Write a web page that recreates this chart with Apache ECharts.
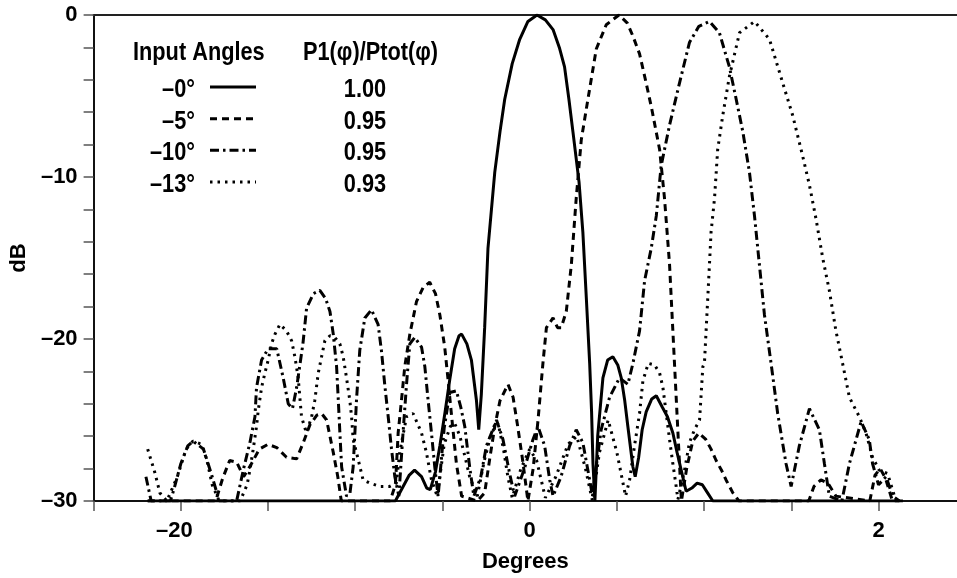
<!DOCTYPE html>
<html>
<head>
<meta charset="utf-8">
<script src="https://cdn.jsdelivr.net/npm/echarts@6/dist/echarts.min.js"></script>
<style>
  html, body { margin: 0; padding: 0; background: #fff; }
  #main { width: 957px; height: 578px; }
</style>
</head>
<body>
<div id="main"></div>
<script>
// beam patterns, [degrees, dB]
var deg0 = [[-2.19,-30],[-0.77,-30],[-0.73,-29.2],[-0.69,-28.4],[-0.66,-28.1],[-0.62,-28.5],[-0.59,-29.2],[-0.57,-29.3],[-0.54,-28.2],[-0.515,-26.6],[-0.485,-24.5],[-0.458,-22.5],[-0.43,-20.6],[-0.405,-19.8],[-0.39,-19.7],[-0.36,-20.3],[-0.334,-21.3],[-0.305,-23.8],[-0.292,-25.6],[-0.277,-23.4],[-0.258,-19.3],[-0.239,-14.4],[-0.2,-9.7],[-0.17,-7.2],[-0.143,-5.2],[-0.1,-3],[-0.057,-1.5],[-0.01,-0.4],[0.042,0],[0.09,-0.3],[0.134,-0.9],[0.17,-2],[0.2,-3.2],[0.225,-5.2],[0.248,-7.2],[0.283,-10.3],[0.305,-13.4],[0.325,-17.5],[0.344,-21.5],[0.355,-24.5],[0.363,-27.7],[0.374,-30],[0.39,-26],[0.42,-22.4],[0.447,-21.3],[0.477,-21.1],[0.505,-21.6],[0.525,-22.4],[0.545,-23.8],[0.563,-25.4],[0.592,-27.9],[0.605,-28.5],[0.625,-27.3],[0.645,-25.6],[0.668,-24.5],[0.7,-23.7],[0.726,-23.5],[0.76,-24.2],[0.79,-24.8],[0.821,-25.8],[0.845,-27],[0.869,-28.1],[0.897,-29.4],[0.93,-29.2],[0.96,-28.9],[0.99,-29],[1.02,-29.5],[1.05,-30],[2.14,-30]];

var deg5 = [[-2.19,-30],[-1.8,-30],[-1.76,-28.6],[-1.72,-27.5],[-1.68,-27.6],[-1.64,-28.5],[-1.6,-27.8],[-1.55,-26.8],[-1.5,-26.5],[-1.45,-26.7],[-1.394,-27.3],[-1.336,-27.4],[-1.298,-26.4],[-1.26,-25.3],[-1.22,-24.7],[-1.193,-24.6],[-1.164,-25],[-1.126,-27],[-1.1,-28.5],[-1.08,-30],[-0.8,-30],[-0.77,-29],[-0.764,-27.9],[-0.754,-25.8],[-0.735,-23.8],[-0.716,-21.7],[-0.687,-19.7],[-0.649,-17.7],[-0.61,-16.8],[-0.573,-16.5],[-0.54,-17.2],[-0.515,-18.5],[-0.487,-20.5],[-0.468,-22.5],[-0.449,-24.6],[-0.42,-27.7],[-0.39,-29.7],[-0.3,-30],[-0.258,-29.5],[-0.229,-27.4],[-0.2,-25.4],[-0.17,-23.8],[-0.124,-22.8],[-0.095,-23.6],[-0.07,-25.3],[-0.04,-27.5],[-0.01,-30],[0.02,-28],[0.048,-25],[0.076,-21.5],[0.096,-19.3],[0.134,-18.7],[0.16,-19.3],[0.181,-19.3],[0.21,-18.3],[0.239,-15.4],[0.267,-11.3],[0.296,-7.7],[0.334,-5.2],[0.382,-2.1],[0.439,-0.6],[0.512,0],[0.56,-0.5],[0.592,-1.3],[0.63,-2.4],[0.668,-4.2],[0.7,-5.8],[0.745,-8.3],[0.773,-11.3],[0.802,-15.4],[0.821,-19.5],[0.84,-23.6],[0.859,-27.7],[0.87,-30],[0.9,-28],[0.935,-26.3],[0.97,-25.8],[1.01,-26.2],[1.04,-26.8],[1.069,-27.5],[1.1,-28.1],[1.126,-28.7],[1.165,-29.5],[1.2,-30],[1.6,-30],[1.63,-29.1],[1.67,-28.7],[1.71,-28.9],[1.756,-29.7],[1.95,-30],[1.98,-28.4],[2.01,-28],[2.04,-28.6],[2.08,-30],[2.12,-30]];

var deg10 = [[-2.2,-28.5],[-2.17,-30],[-2.06,-30],[-2.04,-29.3],[-2,-27.7],[-1.96,-26.6],[-1.93,-26.3],[-1.87,-26.8],[-1.82,-28.5],[-1.78,-30],[-1.68,-30],[-1.64,-28],[-1.604,-26.4],[-1.575,-24.8],[-1.566,-23],[-1.537,-21.3],[-1.499,-20.6],[-1.45,-20.6],[-1.413,-22.4],[-1.384,-24],[-1.36,-24.3],[-1.336,-23],[-1.3,-20.3],[-1.279,-18.1],[-1.24,-17.2],[-1.203,-17],[-1.17,-17.5],[-1.145,-18.3],[-1.126,-19.7],[-1.107,-21.7],[-1.097,-23.8],[-1.088,-25.8],[-1.078,-27.9],[-1.05,-29.7],[-1.03,-29.5],[-1.012,-27.9],[-1.002,-25.8],[-0.993,-23.8],[-0.974,-20.7],[-0.945,-18.7],[-0.907,-18.2],[-0.869,-19.1],[-0.85,-20.7],[-0.831,-22.8],[-0.811,-24.8],[-0.792,-26.8],[-0.773,-28.5],[-0.75,-29.7],[-0.726,-25.8],[-0.706,-22.8],[-0.687,-20.3],[-0.659,-19.9],[-0.62,-20.5],[-0.601,-21.7],[-0.582,-23.8],[-0.563,-25.8],[-0.544,-27.9],[-0.525,-29.7],[-0.49,-25.5],[-0.458,-23.3],[-0.42,-23.2],[-0.395,-24.2],[-0.372,-25.4],[-0.344,-27.9],[-0.32,-29.7],[-0.28,-28.5],[-0.248,-26.6],[-0.19,-25],[-0.153,-26.2],[-0.115,-28.3],[-0.086,-29.7],[-0.03,-28],[0.019,-26.2],[0.048,-25.4],[0.086,-26.6],[0.115,-28.7],[0.134,-29.7],[0.18,-28.5],[0.229,-26.6],[0.267,-25.6],[0.305,-26.4],[0.344,-28.7],[0.36,-29.7],[0.38,-28],[0.41,-25.6],[0.458,-23.6],[0.515,-22.4],[0.563,-22.8],[0.592,-21.5],[0.63,-19.5],[0.659,-16.4],[0.697,-14.4],[0.726,-12.4],[0.754,-9.3],[0.802,-6.8],[0.859,-4.2],[0.916,-1.7],[0.97,-0.7],[1.031,-0.4],[1.088,-1.1],[1.145,-3.2],[1.184,-5.2],[1.222,-7.2],[1.26,-9.7],[1.289,-12.4],[1.317,-15.4],[1.346,-18.5],[1.384,-21.5],[1.422,-24.6],[1.47,-27.7],[1.499,-29.1],[1.546,-26.6],[1.604,-24.3],[1.661,-25.6],[1.69,-27.7],[1.718,-29.7],[1.79,-30],[1.833,-27.7],[1.9,-25.1],[1.947,-26.2],[1.966,-27.7],[2,-29],[2.043,-28.5],[2.081,-29.7],[2.12,-30]];

var deg13 = [[-2.19,-26.8],[-2.15,-28.2],[-2.12,-29.5],[-2.08,-30],[-2.02,-28.5],[-1.97,-26.8],[-1.93,-26.3],[-1.88,-26.5],[-1.85,-27.5],[-1.82,-29],[-1.78,-30],[-1.66,-30],[-1.62,-29],[-1.604,-28.1],[-1.585,-26.8],[-1.566,-25.4],[-1.556,-24.4],[-1.537,-23],[-1.518,-22.1],[-1.499,-21.3],[-1.48,-20.3],[-1.46,-19.7],[-1.432,-19.1],[-1.394,-19.5],[-1.365,-20.1],[-1.346,-21.1],[-1.327,-22.4],[-1.308,-24.8],[-1.28,-25.8],[-1.25,-24.8],[-1.232,-23.8],[-1.212,-22.1],[-1.193,-21.1],[-1.174,-20.1],[-1.145,-19.8],[-1.117,-19.9],[-1.088,-20.3],[-1.069,-21.1],[-1.05,-22.4],[-1.031,-23.8],[-1.021,-24.8],[-1.012,-26.2],[-0.993,-27],[-0.955,-28.7],[-0.916,-28.9],[-0.859,-29.1],[-0.802,-29.1],[-0.764,-28.9],[-0.745,-27],[-0.706,-24.8],[-0.668,-24.6],[-0.62,-25.8],[-0.592,-27],[-0.563,-28.7],[-0.53,-29.7],[-0.49,-26.5],[-0.455,-25.4],[-0.43,-25.2],[-0.4,-26],[-0.37,-27.3],[-0.344,-28.5],[-0.3,-29.7],[-0.26,-27.5],[-0.22,-25.8],[-0.181,-25.2],[-0.15,-26.8],[-0.125,-28.5],[-0.1,-29.8],[-0.05,-28],[0,-26.8],[0.04,-27.5],[0.09,-29.8],[0.15,-28.5],[0.22,-26.5],[0.27,-26],[0.32,-28],[0.36,-30],[0.4,-27],[0.45,-25],[0.5,-27],[0.55,-29.7],[0.573,-28.7],[0.601,-26.6],[0.63,-24.6],[0.649,-22.6],[0.68,-21.5],[0.716,-21.6],[0.745,-22.1],[0.764,-23],[0.783,-24.6],[0.802,-26.2],[0.821,-27.7],[0.84,-29.1],[0.85,-29.9],[0.888,-28.1],[0.916,-26.4],[0.945,-25.6],[0.974,-25],[0.993,-21.7],[1.002,-21.5],[1.021,-17.5],[1.04,-13.4],[1.06,-11.3],[1.078,-8.3],[1.107,-6.2],[1.145,-3.8],[1.203,-1.1],[1.289,-0.4],[1.375,-1.5],[1.451,-4.2],[1.508,-6.2],[1.565,-8.7],[1.604,-10.5],[1.642,-12.6],[1.68,-15],[1.718,-17],[1.756,-19.5],[1.794,-21.5],[1.833,-23.6],[1.89,-24.8],[1.928,-25.8],[1.966,-27.3],[2.004,-28.1],[2.052,-28.3],[2.08,-29.3],[2.1,-30]];

var angleLabels = ['–0°', '–5°', '–10°', '–13°'];
var powerRatios = ['1.00', '0.95', '0.95', '0.93'];
var xTickLabels = { '-2': '{l|–20}', '0': '0', '2': '2' };

var FONT = '"Liberation Sans", Arial, sans-serif';
var FS = 22;
var dashStyles = ['solid', [7, 5], [9, 4, 2.5, 4], [2.5, 5]];

var chartDom = document.getElementById('main');
var myChart = echarts.init(chartDom);

// legend drawn by hand: header + 4 rows (narrowed a bit like the original typeface)
var legendItems = [];
var rowY = [90, 121.7, 153.3, 185];
var legendFont = 'bold 25px ' + FONT;
legendItems.push({
    type: 'text', x: 133, y: 53, scaleX: 0.87,
    style: { text: 'Input Angles', font: legendFont, fill: '#000', verticalAlign: 'middle' }
});
legendItems.push({
    type: 'text', x: 303, y: 53, scaleX: 0.87,
    style: { text: 'P1(φ)/Ptot(φ)', font: legendFont, fill: '#000', verticalAlign: 'middle' }
});
angleLabels.forEach(function (lab, i) {
    legendItems.push({
        type: 'text', x: 195, y: rowY[i], scaleX: 0.87,
        style: { text: lab, font: legendFont, fill: '#000', align: 'right', verticalAlign: 'middle' }
    });
    legendItems.push({
        type: 'line',
        shape: { x1: 210, y1: rowY[i] - 3, x2: 256, y2: rowY[i] - 3 },
        style: { stroke: '#000', lineWidth: 3, lineDash: dashStyles[i] === 'solid' ? null : dashStyles[i] }
    });
    legendItems.push({
        type: 'text', x: 365, y: rowY[i], scaleX: 0.87,
        style: { text: powerRatios[i], font: legendFont, fill: '#000', align: 'center', verticalAlign: 'middle' }
    });
});

var series_list = [deg0, deg5, deg10, deg13].map(function (d, i) {
    return {
        type: 'line',
        data: d,
        showSymbol: false,
        clip: true,
        lineStyle: { color: '#000', width: 3, type: dashStyles[i] },
        z: 3
    };
});

var option = {
    animation: false,
    backgroundColor: '#fff',
    grid: { left: 93, right: 0, top: 15, bottom: 73 },
    xAxis: [{
        type: 'value',
        min: -2.5, max: 2.45, interval: 0.5,
        name: 'Degrees', nameLocation: 'middle', nameGap: 50,
        nameTextStyle: { fontFamily: FONT, fontWeight: 'bold', fontSize: FS, color: '#000' },
        axisLine: { show: true, onZero: false, lineStyle: { color: '#111', width: 2 } },
        axisTick: { show: true, length: 10, lineStyle: { color: '#555', width: 1.5 } },
        axisLabel: {
            margin: 19, fontFamily: FONT, fontWeight: 'bold', fontSize: FS, color: '#000',
            showMaxLabel: false,
            rich: { l: { fontFamily: FONT, fontWeight: 'bold', fontSize: FS, color: '#000', padding: [0, 13, 0, 0] } },
            formatter: function (v) { return xTickLabels[String(v)] || ''; }
        },
        splitLine: { show: false }
    }, {
        type: 'value', position: 'top',
        min: -2.5, max: 2.45,
        axisLine: { show: true, onZero: false, lineStyle: { color: '#222', width: 2 } },
        axisTick: { show: false }, axisLabel: { show: false }, splitLine: { show: false }
    }],
    yAxis: {
        type: 'value',
        min: -30, max: 0, interval: 2,
        name: 'dB', nameLocation: 'middle', nameGap: 62, nameRotate: 90,
        nameTextStyle: { fontFamily: FONT, fontWeight: 'bold', fontSize: FS, color: '#000' },
        axisLine: { show: true, onZero: false, lineStyle: { color: '#111', width: 2 } },
        axisTick: { show: true, length: 10, lineStyle: { color: '#555', width: 1.5 } },
        axisLabel: {
            margin: 16, fontFamily: FONT, fontWeight: 'bold', fontSize: FS, color: '#000',
            formatter: function (v) {
                if (v % 10 !== 0) return '';
                return v === 0 ? '0' : '–' + Math.abs(v);
            }
        },
        splitLine: { show: false }
    },
    graphic: legendItems,
    series: series_list
};

option && myChart.setOption(option);
</script>
</body>
</html>
